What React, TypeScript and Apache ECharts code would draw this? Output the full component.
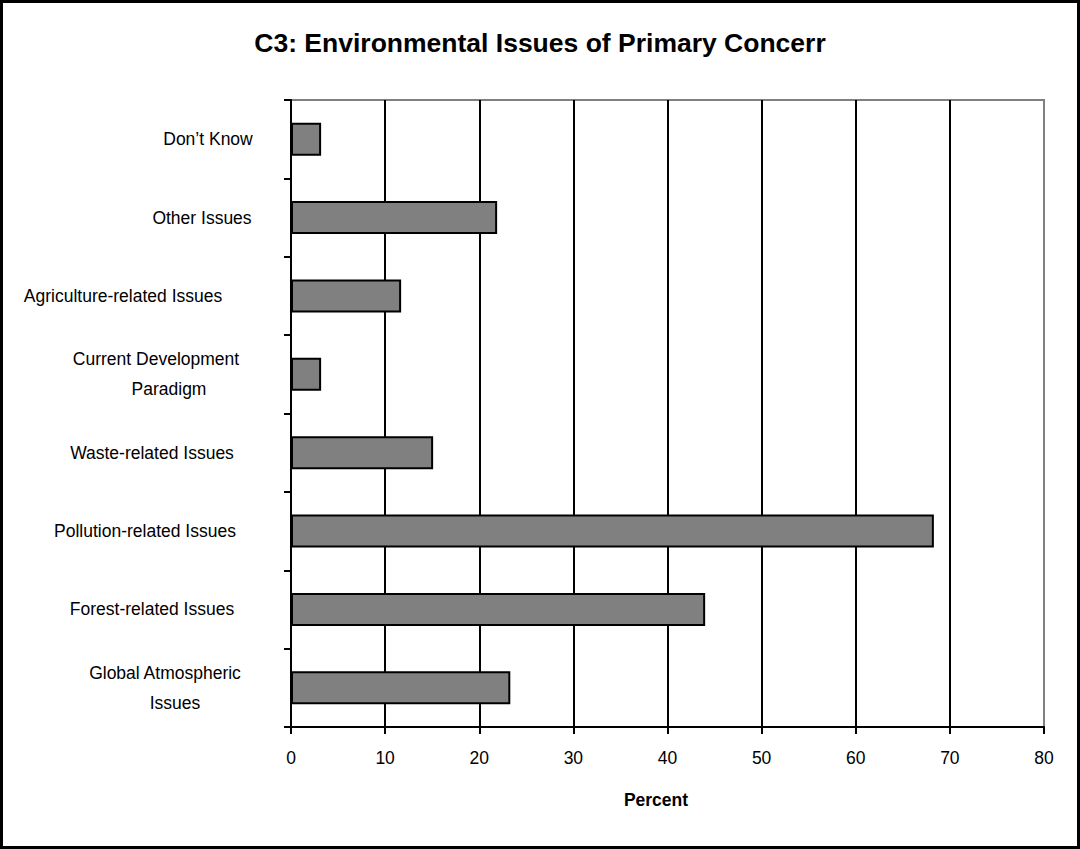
import React, { useEffect, useRef } from "react";
import * as echarts from "echarts";

const categories = [
  "Don’t Know",
  "Other Issues",
  "Agriculture-related Issues",
  "Current Development\nParadigm",
  "Waste-related Issues",
  "Pollution-related Issues",
  "Forest-related Issues",
  "Global Atmospheric\nIssues",
];
const values = [3.2, 21.9, 11.7, 3.2, 15.1, 68.3, 44.0, 23.3];
const xMin = 0;
const xMax = 80;
const xStep = 10;
const titleText = "C3: Environmental Issues of Primary Concerr";
const xName = "Percent";

// styling: how far (px) left of the label anchor each label line is centred
const labelShift: number[][] = [
  [2],
  [8],
  [87],
  [54, 41],
  [58],
  [65],
  [58],
  [45, 35],
];

function pickNarrow(): { family: string; scale: number } {
  try {
    const c = document.createElement("canvas").getContext("2d");
    if (c) {
      const s = "Agriculture-related Issues";
      c.font = "20px 'Liberation Sans Narrow', monospace";
      const a = c.measureText(s).width;
      c.font = "20px monospace";
      const b = c.measureText(s).width;
      if (Math.abs(a - b) > 1) return { family: "'Liberation Sans Narrow'", scale: 1 };
    }
  } catch (e) {}
  return { family: "'Liberation Sans', Arial, sans-serif", scale: 0.87 };
}

export default function App() {
  const ref = useRef<HTMLDivElement>(null);
  useEffect(() => {
    if (!ref.current) return;
    const chart = echarts.init(ref.current, null, { renderer: "svg" });
    const nf = pickNarrow();
    const fs = Math.round(20 * nf.scale * 2) / 2;
    const rich: Record<string, any> = {};
    labelShift.forEach((lines, i) => {
      lines.forEach((d, j) => {
        rich[`l${i}_${j}`] = {
          fontFamily: nf.family,
          fontSize: fs,
          color: "#000",
          lineHeight: 30,
          padding: [0, 2 * d, 0, 0],
        };
      });
    });
    const gridColors: string[] = [];
    for (let v = xMin; v <= xMax; v += xStep) gridColors.push(v === xMax ? "#808080" : "#000000");

    chart.setOption({
      animation: false,
      backgroundColor: "#ffffff",
      title: {
        text: titleText,
        left: "center",
        top: 24,
        textStyle: {
          fontFamily: "'Liberation Sans', Arial, sans-serif",
          fontSize: 26.5,
          fontWeight: "bold",
          color: "#000",
        },
      },
      graphic: [
        {
          type: "rect",
          shape: { x: 1.5, y: 1.5, width: 1077, height: 846 },
          style: { fill: "none", stroke: "#000", lineWidth: 3 },
          silent: true,
        },
      ],
      grid: {
        left: 291,
        right: 36,
        top: 100,
        bottom: 122,
        show: true,
        borderColor: "#808080",
        borderWidth: 2,
        backgroundColor: "transparent",
      },
      xAxis: {
        type: "value",
        min: xMin,
        max: xMax,
        interval: xStep,
        name: xName,
        nameLocation: "middle",
        nameGap: 64,
        nameTextStyle: {
          fontFamily: nf.family,
          fontSize: fs,
          fontWeight: "bold",
          color: "#000",
          padding: [0, 23, 0, 0],
        },
        axisLine: { show: true, lineStyle: { color: "#000", width: 2 } },
        axisTick: { show: true, length: 7, lineStyle: { color: "#000", width: 2 } },
        axisLabel: {
          margin: 22,
          fontFamily: nf.family,
          fontSize: fs,
          color: "#000",
        },
        splitLine: { show: true, lineStyle: { color: gridColors, width: 2 } },
      },
      yAxis: {
        type: "category",
        data: categories,
        inverse: true,
        axisLine: { show: true, lineStyle: { color: "#000", width: 2 } },
        axisTick: { show: true, length: 7, lineStyle: { color: "#000", width: 2 } },
        axisLabel: {
          interval: 0,
          align: "center",
          margin: 81,
          formatter: (val: string, idx: number) =>
            val
              .split("\n")
              .map((line, j) => `{l${idx}_${j}|${line}}`)
              .join("\n"),
          rich,
        },
        splitLine: { show: false },
      },
      series: [
        {
          type: "bar",
          data: values,
          barWidth: 33,
          itemStyle: { color: "#808080", borderColor: "#000", borderWidth: 2 },
        },
      ],
    });
    return () => chart.dispose();
  }, []);
  return (
    <div
      ref={ref}
      style={{ position: "absolute", left: 0, top: 0, width: 1080, height: 849 }}
    />
  );
}
